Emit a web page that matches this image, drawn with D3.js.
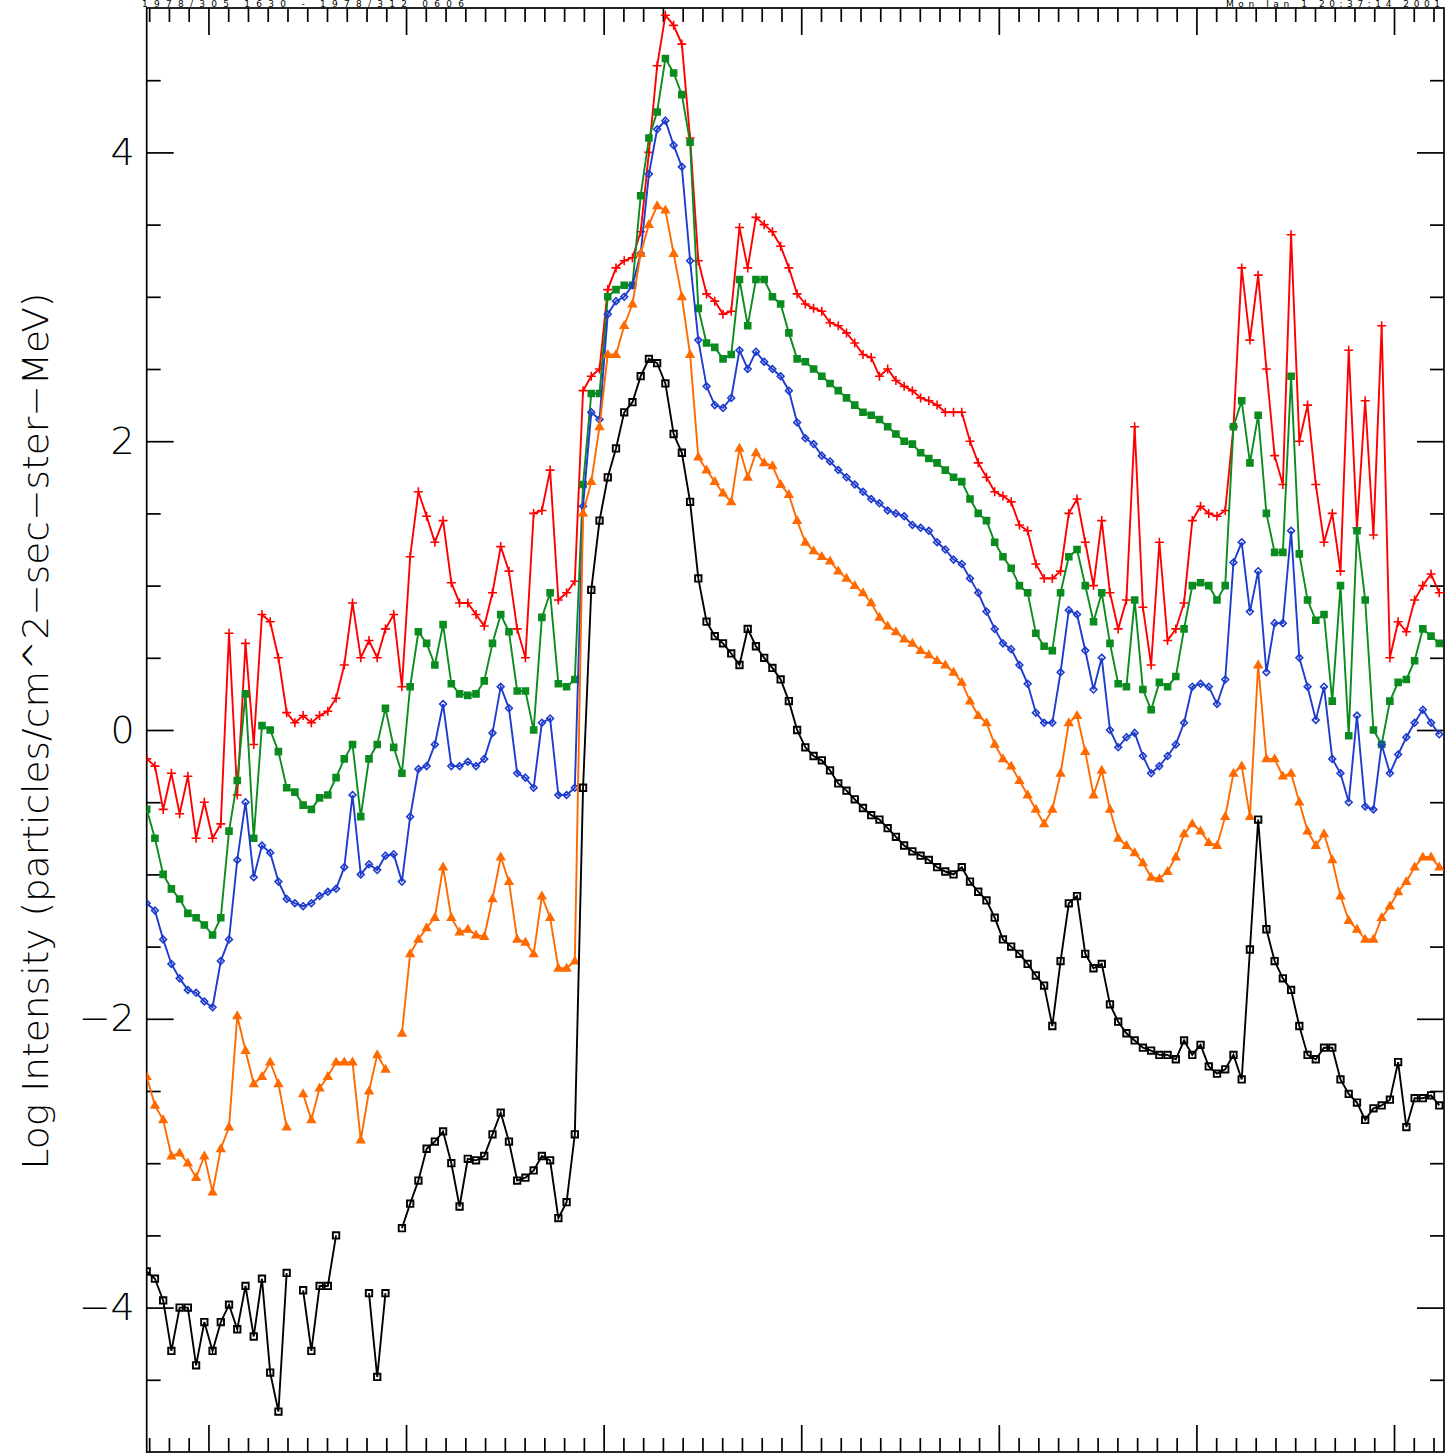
<!DOCTYPE html>
<html>
<head>
<meta charset="utf-8">
<script src="https://cdn.jsdelivr.net/npm/d3@7"></script>
<style>
body{margin:0;background:#fff}
svg{display:block}
</style>
</head>
<body>
<script>
// hourly samples, day-of-year 1978
const startDay = 305.6875
const endDay = 312.253
const stepDays = 1/24

const yMajor = [-4,-2,0,2,4]
const dayTicks = [306,307,308,309,310,311,312]

const red = [-0.2,-0.25,-0.55,-0.3,-0.58,-0.32,-0.75,-0.5,-0.75,-0.65,
 0.67,-0.45,0.6,-0.1,0.8,0.75,0.5,0.12,0.05,0.1,
 0.05,0.1,0.13,0.22,0.45,0.88,0.5,0.62,0.5,0.7,
 0.8,0.3,1.2,1.65,1.48,1.3,1.45,1.02,0.88,0.88,
 0.8,0.72,0.95,1.27,1.1,0.7,0.5,1.5,1.52,1.8,
 0.9,0.95,1.03,2.35,2.45,2.5,3.05,3.2,3.25,3.27,
 3.45,4.0,4.6,4.95,4.88,4.75,4.1,3.25,3.02,2.97,
 2.88,2.9,3.48,3.2,3.55,3.5,3.45,3.35,3.2,3.02,
 2.95,2.92,2.9,2.82,2.8,2.75,2.68,2.6,2.58,2.45,
 2.5,2.42,2.38,2.35,2.3,2.28,2.25,2.2,2.2,2.2,
 2.0,1.85,1.75,1.65,1.62,1.58,1.42,1.38,1.15,1.05,
 1.05,1.1,1.5,1.6,1.3,1.0,1.45,0.95,0.7,0.9,
 2.1,0.85,0.45,1.3,0.62,0.7,0.88,1.45,1.55,1.5,
 1.48,1.52,2.1,3.2,2.7,3.15,2.5,1.9,1.7,3.43,
 2.0,2.25,1.7,1.3,1.5,1.1,2.63,1.4,2.28,1.35,
 2.8,0.5,0.75,0.68,0.9,1.0,1.08,0.95]

const green = [-0.55,-0.75,-1.0,-1.1,-1.17,-1.27,-1.3,-1.35,-1.42,-1.3,
 -0.7,-0.35,0.25,-0.75,0.03,0.0,-0.15,-0.4,-0.43,-0.52,
 -0.55,-0.47,-0.45,-0.33,-0.2,-0.1,-0.6,-0.2,-0.1,0.15,
 -0.12,-0.3,0.3,0.68,0.6,0.45,0.73,0.32,0.25,0.24,
 0.25,0.34,0.6,0.8,0.68,0.27,0.27,0.0,0.78,0.95,
 0.32,0.3,0.35,1.7,2.33,2.33,3.0,3.05,3.08,3.08,
 3.7,4.1,4.28,4.65,4.55,4.4,4.07,2.92,2.68,2.65,
 2.57,2.6,3.12,2.8,3.12,3.12,3.0,2.95,2.75,2.57,
 2.55,2.5,2.45,2.4,2.35,2.3,2.25,2.2,2.18,2.15,
 2.1,2.05,2.0,1.98,1.92,1.88,1.85,1.8,1.75,1.72,
 1.6,1.5,1.45,1.3,1.2,1.12,1.0,0.95,0.67,0.58,
 0.55,0.95,1.2,1.25,1.0,0.75,0.95,0.6,0.32,0.3,
 0.9,0.28,0.14,0.33,0.3,0.37,0.7,1.0,1.02,1.0,
 0.9,1.0,2.1,2.28,1.85,2.18,1.5,1.23,1.23,2.45,
 1.22,0.9,0.76,0.8,0.2,1.0,-0.04,1.38,0.9,0.0,
 -0.1,0.2,0.33,0.35,0.48,0.7,0.65,0.6]

const blue = [-1.2,-1.25,-1.45,-1.62,-1.72,-1.8,-1.82,-1.88,-1.92,-1.6,
 -1.45,-0.9,-0.5,-1.02,-0.8,-0.85,-1.05,-1.17,-1.2,-1.22,
 -1.2,-1.15,-1.12,-1.1,-0.95,-0.45,-1.0,-0.93,-0.97,-0.87,
 -0.86,-1.05,-0.6,-0.27,-0.25,-0.1,0.18,-0.25,-0.25,-0.22,
 -0.25,-0.2,-0.02,0.3,0.15,-0.3,-0.33,-0.4,0.05,0.08,
 -0.45,-0.45,-0.4,1.55,2.2,2.15,2.88,2.97,3.0,3.08,
 3.3,3.85,4.16,4.22,4.05,3.9,3.25,2.7,2.38,2.25,
 2.23,2.3,2.63,2.5,2.62,2.55,2.5,2.45,2.35,2.13,
 2.02,1.98,1.9,1.86,1.8,1.75,1.7,1.65,1.6,1.57,
 1.52,1.5,1.48,1.42,1.4,1.38,1.3,1.25,1.18,1.15,
 1.05,0.95,0.82,0.7,0.6,0.56,0.45,0.32,0.12,0.05,
 0.05,0.4,0.83,0.8,0.55,0.28,0.5,0.0,-0.12,-0.05,
 -0.02,-0.18,-0.3,-0.25,-0.18,-0.1,0.05,0.3,0.32,0.3,
 0.18,0.35,1.16,1.3,0.82,1.1,0.4,0.74,0.74,1.38,
 0.5,0.3,0.07,0.3,-0.2,-0.3,-0.5,0.1,-0.53,-0.55,
 -0.1,-0.3,-0.17,-0.05,0.05,0.14,0.05,-0.03]

const orange = [-2.4,-2.6,-2.7,-2.95,-2.93,-3.0,-3.1,-2.95,-3.2,-2.9,
 -2.75,-1.98,-2.22,-2.45,-2.4,-2.3,-2.45,-2.75,null,-2.52,
 -2.7,-2.48,-2.4,-2.3,-2.3,-2.3,-2.84,-2.5,-2.25,-2.35,
 null,-2.1,-1.55,-1.45,-1.37,-1.3,-0.95,-1.3,-1.4,-1.38,
 -1.42,-1.43,-1.17,-0.88,-1.05,-1.45,-1.47,-1.55,-1.15,-1.3,
 -1.65,-1.65,-1.6,1.5,1.72,2.1,2.6,2.6,2.8,2.95,
 3.3,3.5,3.63,3.6,3.3,3.0,2.6,1.89,1.8,1.72,
 1.64,1.58,1.95,1.75,1.92,1.85,1.83,1.7,1.63,1.45,
 1.3,1.24,1.2,1.17,1.1,1.05,1.0,0.95,0.88,0.78,
 0.72,0.68,0.63,0.6,0.55,0.52,0.48,0.45,0.4,0.33,
 0.2,0.1,0.05,-0.1,-0.2,-0.25,-0.35,-0.45,-0.55,-0.65,
 -0.55,-0.3,0.05,0.1,-0.15,-0.45,-0.28,-0.55,-0.75,-0.8,
 -0.85,-0.92,-1.02,-1.03,-0.98,-0.88,-0.72,-0.65,-0.7,-0.78,
 -0.8,-0.6,-0.3,-0.25,-0.6,0.45,-0.2,-0.2,-0.32,-0.3,
 -0.5,-0.7,-0.8,-0.72,-0.9,-1.15,-1.32,-1.38,-1.45,-1.45,
 -1.3,-1.22,-1.12,-1.05,-0.95,-0.88,-0.88,-0.95]

const black = [-3.75,-3.8,-3.95,-4.3,-4.0,-4.0,-4.4,-4.1,-4.3,-4.1,
 -3.98,-4.15,-3.85,-4.2,-3.8,-4.45,-4.72,-3.76,null,-3.88,
 -4.3,-3.85,-3.85,-3.5,null,null,null,-3.9,-4.48,-3.9,
 null,-3.45,-3.28,-3.12,-2.9,-2.85,-2.78,-3.0,-3.3,-2.97,
 -2.98,-2.95,-2.8,-2.65,-2.85,-3.12,-3.1,-3.05,-2.95,-2.98,
 -3.38,-3.27,-2.8,-0.4,0.97,1.45,1.75,1.95,2.2,2.27,
 2.45,2.57,2.54,2.4,2.05,1.92,1.58,1.05,0.75,0.65,
 0.6,0.53,0.45,0.7,0.58,0.5,0.43,0.35,0.2,0.0,
 -0.12,-0.18,-0.21,-0.28,-0.37,-0.42,-0.48,-0.54,-0.59,-0.62,
 -0.68,-0.74,-0.8,-0.84,-0.87,-0.9,-0.95,-0.98,-1.0,-0.95,
 -1.05,-1.12,-1.18,-1.3,-1.45,-1.5,-1.55,-1.62,-1.7,-1.77,
 -2.05,-1.6,-1.2,-1.15,-1.55,-1.65,-1.62,-1.9,-2.02,-2.1,
 -2.15,-2.2,-2.22,-2.25,-2.25,-2.28,-2.15,-2.25,-2.18,-2.33,
 -2.38,-2.35,-2.25,-2.42,-1.52,-0.62,-1.38,-1.6,-1.72,-1.8,
 -2.05,-2.25,-2.28,-2.2,-2.2,-2.42,-2.52,-2.58,-2.7,-2.62,
 -2.6,-2.56,-2.3,-2.75,-2.55,-2.55,-2.53,-2.6]

const series = [
  {name:'red', color:'#ff0000', values:red, mark:'plus'},
  {name:'green', color:'#0a8c1e', values:green, mark:'box'},
  {name:'blue', color:'#1e3ccd', values:blue, mark:'diamond'},
  {name:'orange', color:'#ff6a00', values:orange, mark:'tri'},
  {name:'black', color:'#000000', values:black, mark:'square'},
]

const W = 1447, H = 1454
const L = 146.7, R = 1444, T = 8, B = 1452

const svg = d3.select('body').append('svg').attr('width',W).attr('height',H)

const x = d3.scaleLinear().domain([startDay,endDay]).range([L,R])
const y = d3.scaleLinear().domain([-5,5]).range([B,T])

svg.append('clipPath').attr('id','plot')
  .append('rect').attr('x',L).attr('y',T).attr('width',R-L).attr('height',B-T)

const tenthTicks = d3.range(3057,3123).map(d => d/10).filter(d => !dayTicks.includes(d))
const yMinor = d3.range(-9,10).map(d => d/2).filter(d => !yMajor.includes(d))

// inward ticks on all four sides, IDL style
function ticks(axis, vals, size, tx, ty){
  svg.append('g').attr('transform',`translate(${tx},${ty})`)
    .call(axis.tickValues(vals).tickSize(size).tickFormat(''))
    .call(g => g.select('.domain').remove())
    .call(g => g.selectAll('line').attr('stroke','#000').attr('stroke-width',1.7))
}
ticks(d3.axisRight(y), yMinor, 14, L, 0)
ticks(d3.axisRight(y), yMajor, 27, L, 0)
ticks(d3.axisLeft(y), yMinor, 14, R, 0)
ticks(d3.axisLeft(y), yMajor, 27, R, 0)
ticks(d3.axisTop(x), tenthTicks, 14, 0, B)
ticks(d3.axisTop(x), dayTicks, 27, 0, B)
ticks(d3.axisBottom(x), tenthTicks, 14, 0, T)
ticks(d3.axisBottom(x), dayTicks, 27, 0, T)

// y labels
svg.append('g').attr('transform',`translate(${L},0)`)
  .call(d3.axisLeft(y).tickValues(yMajor).tickSize(0).tickPadding(12)
    .tickFormat(d => d < 0 ? '\u2212' + Math.abs(d) : d))
  .call(g => g.select('.domain').remove())
  .attr('font-family','"DejaVu Sans", sans-serif')
  .attr('font-weight',200)
  .attr('font-size',38)

svg.append('text')
  .attr('transform','translate(48,731) rotate(-90)')
  .attr('text-anchor','middle')
  .attr('font-family','"DejaVu Sans", sans-serif')
  .attr('font-weight',200)
  .attr('font-size',36)
  .attr('textLength',877).attr('lengthAdjust','spacingAndGlyphs')
  .text('Log Intensity (particles/cm^2\u2212sec\u2212ster\u2212MeV)')

// header line in the thin band above the frame
svg.append('text').attr('x',142).attr('y',7)
  .attr('font-family','"DejaVu Sans", sans-serif').attr('font-size',9)
  .attr('textLength',322).attr('lengthAdjust','spacing')
  .text('1978/305 1630 - 1978/312 0606')
svg.append('text').attr('x',1226).attr('y',7)
  .attr('font-family','"DejaVu Sans", sans-serif').attr('font-size',9)
  .attr('textLength',214).attr('lengthAdjust','spacing')
  .text('Mon Jan 1 20:37:14 2001')

// frame
svg.append('rect').attr('x',L).attr('y',T).attr('width',R-L).attr('height',B-T)
  .attr('fill','none').attr('stroke','#000').attr('stroke-width',1.7)

const marks = {
  plus: 'M-4.5,0H4.5M0,-4.5V4.5',
  box: 'M-3,-3H3V3H-3Z',
  diamond: 'M0,-3.4L3.4,0L0,3.4L-3.4,0Z',
  tri: 'M0,-4L3.8,2.6H-3.8Z',
  square: 'M-3.2,-3.2H3.2V3.2H-3.2Z',
}

const line = d3.line()
  .defined(d => d.v != null)
  .x(d => x(d.t))
  .y(d => y(d.v))

const plot = svg.append('g').attr('clip-path','url(#plot)')

series.forEach(s => {
  const pts = s.values.map((v,i) => ({t: startDay + i*stepDays, v}))
  const g = plot.append('g').attr('class',s.name)
  g.append('path').datum(pts)
    .attr('d',line)
    .attr('fill','none')
    .attr('stroke',s.color)
    .attr('stroke-width',1.9)
  g.selectAll('path.m').data(pts.filter(d => d.v != null))
    .enter().append('path').classed('m',true)
    .attr('transform',d => `translate(${x(d.t)},${y(d.v)})`)
    .attr('d',marks[s.mark])
    .attr('fill',s.mark=='box' || s.mark=='tri' ? s.color : 'none')
    .attr('stroke',s.color)
    .attr('stroke-width',s.mark=='square' ? 1.9 : 1.6)
})
</script>
</body>
</html>
